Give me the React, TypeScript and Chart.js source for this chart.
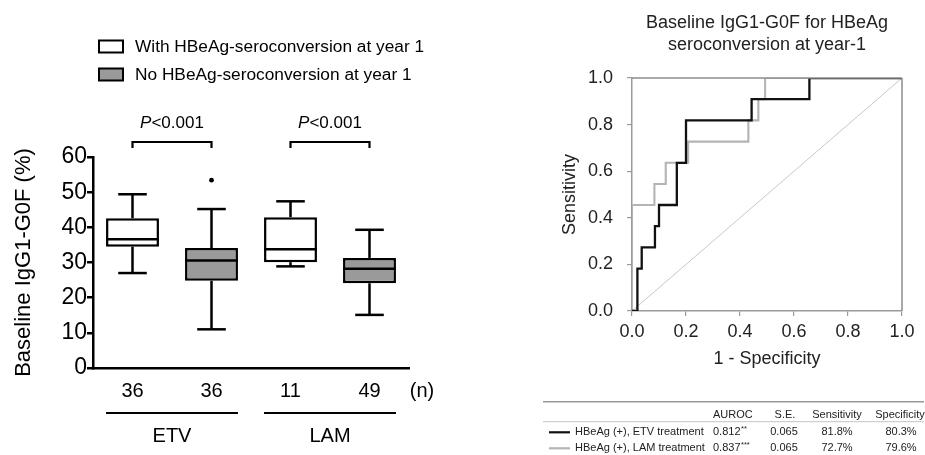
import React, { useEffect, useRef } from 'react';
import { Chart, registerables } from 'chart.js';

Chart.register(...registerables);

const FONT = '"Liberation Sans", Arial, Helvetica, sans-serif';

// ---------- Left panel: box plots ----------
const seriesLabels = ['With HBeAg-seroconversion at year 1', 'No HBeAg-seroconversion at year 1'];
const seriesColors = ['#ffffff', '#9a9a9a'];
const nLabels = ['36', '36', '11', '49'];
const boxSeries = [0, 1, 0, 1];
const groupLabels = ['ETV', 'LAM'];
const whiskerLow = [27.0, 11.0, 28.9, 15.1];
const q1 = [34.5, 24.8, 30.1, 24.1];
const medians = [36.6, 30.6, 33.8, 28.2];
const q3 = [42.6, 34.1, 42.9, 31.3];
const whiskerHigh = [49.4, 45.2, 47.4, 39.3];
const outliers: number[][] = [[], [53.4], [], []];
const pValues = ['<0.001', '<0.001'];
const leftYMin = 0;
const leftYMax = 60;
const leftYStep = 10;

// ---------- Right panel: ROC ----------
const rocTitle = ['Baseline IgG1-G0F for HBeAg', 'seroconversion at year-1'];
const rocLabels = ['HBeAg (+), ETV treatment', 'HBeAg (+), LAM treatment'];
const rocColors = ['#111111', '#b4b4b4'];
const etvFpr = [0, 0.02, 0.036, 0.085, 0.1, 0.166, 0.2, 0.443, 0.657, 1];
const etvTpr = [0, 0.182, 0.273, 0.364, 0.455, 0.636, 0.818, 0.909, 1, 1];
const lamFpr = [0, 0, 0.083, 0.125, 0.208, 0.431, 0.468, 0.493, 1];
const lamTpr = [0, 0.455, 0.545, 0.636, 0.727, 0.818, 0.909, 1, 1];
const diagX = [0, 1];
const diagY = [0, 1];
const tableHeaders = ['AUROC', 'S.E.', 'Sensitivity', 'Specificity'];
const aurocValues = ['0.812', '0.837'];
const aurocStars = ['**', '***'];
const seValues = ['0.065', '0.065'];
const sensValues = ['81.8%', '72.7%'];
const specValues = ['80.3%', '79.6%'];

function line(ctx: CanvasRenderingContext2D, x1: number, y1: number, x2: number, y2: number) {
  ctx.beginPath();
  ctx.moveTo(x1, y1);
  ctx.lineTo(x2, y2);
  ctx.stroke();
}

const boxPlugin = {
  id: 'boxExtras',
  afterDatasetsDraw(chart: any) {
    const { ctx, scales } = chart;
    const x = scales.x;
    const y = scales.y;
    ctx.save();
    ctx.strokeStyle = '#000';
    ctx.fillStyle = '#000';
    ctx.lineWidth = 2.5;
    for (let i = 0; i < nLabels.length; i++) {
      const bar = chart.getDatasetMeta(boxSeries[i]).data[i];
      const cx = x.getPixelForValue(i);
      const w = bar.width;
      const cap = w * 0.27;
      const pm = y.getPixelForValue(medians[i]);
      const p1 = y.getPixelForValue(q1[i]);
      const p3 = y.getPixelForValue(q3[i]);
      const pl = y.getPixelForValue(whiskerLow[i]);
      const ph = y.getPixelForValue(whiskerHigh[i]);
      line(ctx, cx - w / 2, pm, cx + w / 2, pm);
      line(ctx, cx, p3, cx, ph);
      line(ctx, cx - cap, ph, cx + cap, ph);
      line(ctx, cx, p1, cx, pl);
      line(ctx, cx - cap, pl, cx + cap, pl);
      for (const o of outliers[i]) {
        ctx.beginPath();
        ctx.arc(cx, y.getPixelForValue(o), 2.4, 0, Math.PI * 2);
        ctx.fill();
      }
    }
    ctx.restore();
  },
  afterDraw(chart: any) {
    const { ctx, scales, chartArea } = chart;
    const x = scales.x;
    ctx.save();
    ctx.fillStyle = '#000';
    ctx.strokeStyle = '#000';
    // legend
    const ds = chart.data.datasets;
    for (let s = 0; s < ds.length; s++) {
      const by = 40.5 + s * 28;
      ctx.fillStyle = ds[s].backgroundColor;
      ctx.fillRect(99, by, 24, 12);
      ctx.lineWidth = 2;
      ctx.strokeStyle = '#000';
      ctx.strokeRect(99, by, 24, 12);
      ctx.fillStyle = '#000';
      ctx.font = `17.3px ${FONT}`;
      ctx.textAlign = 'left';
      ctx.textBaseline = 'middle';
      ctx.fillText(ds[s].label, 135, by + 6.5);
    }
    // brackets and P values
    ctx.lineWidth = 2.2;
    for (let g = 0; g < pValues.length; g++) {
      const xa = x.getPixelForValue(2 * g);
      const xb = x.getPixelForValue(2 * g + 1);
      const yb = chartArea.top - 15;
      ctx.beginPath();
      ctx.moveTo(xa, yb + 6);
      ctx.lineTo(xa, yb);
      ctx.lineTo(xb, yb);
      ctx.lineTo(xb, yb + 6);
      ctx.stroke();
      ctx.font = `italic 17px ${FONT}`;
      const wp = ctx.measureText('P').width;
      ctx.font = `17px ${FONT}`;
      const wr = ctx.measureText(pValues[g]).width;
      const start = (xa + xb) / 2 - (wp + wr) / 2;
      ctx.textAlign = 'left';
      ctx.textBaseline = 'middle';
      ctx.font = `italic 17px ${FONT}`;
      ctx.fillText('P', start, chartArea.top - 34);
      ctx.font = `17px ${FONT}`;
      ctx.fillText(pValues[g], start + wp, chartArea.top - 34);
    }
    // (n)
    ctx.font = `20px ${FONT}`;
    ctx.textAlign = 'center';
    ctx.textBaseline = 'middle';
    ctx.fillText('(n)', chartArea.right + 13, chartArea.bottom + 23);
    // group lines
    for (let g = 0; g < groupLabels.length; g++) {
      const b0 = chart.getDatasetMeta(boxSeries[2 * g]).data[2 * g];
      const b1 = chart.getDatasetMeta(boxSeries[2 * g + 1]).data[2 * g + 1];
      const xa = b0.x - b0.width / 2;
      const xb = b1.x + b1.width / 2;
      ctx.lineWidth = 2;
      line(ctx, xa, chartArea.bottom + 45, xb, chartArea.bottom + 45);
      ctx.fillText(groupLabels[g], (xa + xb) / 2, chartArea.bottom + 68);
    }
    ctx.restore();
  },
};

const rocPlugin = {
  id: 'rocExtras',
  afterDraw(chart: any) {
    const { ctx, chartArea } = chart;
    ctx.save();
    // frame top/right
    ctx.strokeStyle = '#8c8c8c';
    ctx.lineWidth = 1.5;
    line(ctx, chartArea.left, chartArea.top, chartArea.right, chartArea.top);
    line(ctx, chartArea.right, chartArea.top, chartArea.right, chartArea.bottom);
    // title
    const cxTitle = (chartArea.left + chartArea.right) / 2;
    ctx.fillStyle = '#222';
    ctx.font = `18px ${FONT}`;
    ctx.textAlign = 'center';
    ctx.textBaseline = 'middle';
    rocTitle.forEach((t, i) => ctx.fillText(t, cxTitle, 23 + i * 22));
    // table
    ctx.strokeStyle = '#999';
    ctx.lineWidth = 1.6;
    line(ctx, 3, 401.7, 384, 401.7);
    ctx.strokeStyle = '#c4c4c4';
    ctx.lineWidth = 1;
    line(ctx, 3, 421.7, 384, 421.7);
    ctx.font = `11px ${FONT}`;
    ctx.fillStyle = '#222';
    ctx.textAlign = 'left';
    ctx.fillText(tableHeaders[0], 173, 414.5);
    ctx.textAlign = 'center';
    ctx.fillText(tableHeaders[1], 245, 414.5);
    ctx.fillText(tableHeaders[2], 297, 414.5);
    ctx.fillText(tableHeaders[3], 360, 414.5);
    const ds = chart.data.datasets;
    for (let r = 0; r < rocLabels.length; r++) {
      const ry = 432.3 + r * 16;
      ctx.strokeStyle = ds[r].borderColor;
      ctx.lineWidth = 2.2;
      line(ctx, 9, ry, 30, ry);
      ctx.fillStyle = '#222';
      ctx.font = `11px ${FONT}`;
      ctx.textAlign = 'left';
      ctx.fillText(ds[r].label, 35, ry);
      ctx.fillText(aurocValues[r], 173, ry);
      const w = ctx.measureText(aurocValues[r]).width;
      ctx.font = `7.5px ${FONT}`;
      ctx.fillText(aurocStars[r], 173 + w + 0.5, ry - 3);
      ctx.font = `11px ${FONT}`;
      ctx.textAlign = 'center';
      ctx.fillText(seValues[r], 244, ry);
      ctx.fillText(sensValues[r], 297, ry);
      ctx.fillText(specValues[r], 361, ry);
    }
    ctx.restore();
  },
};

export default function App() {
  const leftRef = useRef<HTMLCanvasElement>(null);
  const rightRef = useRef<HTMLCanvasElement>(null);

  useEffect(() => {
    const boxData = (s: number) =>
      nLabels.map((_, i) => (boxSeries[i] === s ? [q1[i], q3[i]] : null));

    const left = new Chart(leftRef.current as HTMLCanvasElement, {
      type: 'bar',
      data: {
        labels: nLabels,
        datasets: seriesLabels.map((label, s) => ({
          label,
          data: boxData(s) as any,
          backgroundColor: seriesColors[s],
          borderColor: '#000',
          borderWidth: 2.5,
          borderSkipped: false,
          grouped: false,
          categoryPercentage: 1,
          barPercentage: 0.67,
        })),
      },
      options: {
        responsive: false,
        animation: false,
        layout: { padding: { top: 157, right: 51, bottom: 0, left: 0 } },
        plugins: { legend: { display: false }, tooltip: { enabled: false }, title: { display: false } },
        scales: {
          x: {
            grid: { display: false, drawTicks: false },
            border: { display: true, color: '#000', width: 2.5 },
            ticks: { font: { size: 20, family: FONT }, color: '#000', padding: 11 },
            afterFit: (s: any) => { s.height = 87; },
          },
          y: {
            min: leftYMin,
            max: leftYMax,
            ticks: { stepSize: leftYStep, font: { size: 23, family: FONT }, color: '#000', padding: 0 },
            grid: { drawOnChartArea: false, drawTicks: true, tickLength: 6, color: '#000', lineWidth: 2.5 },
            border: { display: true, color: '#000', width: 2.5 },
            title: {
              display: true,
              text: 'Baseline IgG1-G0F (%)',
              font: { size: 22, family: FONT },
              color: '#000',
              padding: { top: 11, bottom: 0 },
            },
            afterFit: (s: any) => { s.width = 93; },
          },
        },
      } as any,
      plugins: [boxPlugin],
    });

    const pts = (xs: number[], ys: number[]) => xs.map((x, i) => ({ x, y: ys[i] }));

    const right = new Chart(rightRef.current as HTMLCanvasElement, {
      type: 'scatter',
      data: {
        datasets: [
          {
            label: rocLabels[0],
            data: pts(etvFpr, etvTpr),
            borderColor: rocColors[0],
            backgroundColor: rocColors[0],
            borderWidth: 2.3,
            showLine: true,
            stepped: true,
            pointRadius: 0,
          },
          {
            label: rocLabels[1],
            data: pts(lamFpr, lamTpr),
            borderColor: rocColors[1],
            backgroundColor: rocColors[1],
            borderWidth: 2.1,
            showLine: true,
            stepped: true,
            pointRadius: 0,
          },
          {
            label: 'Reference',
            data: pts(diagX, diagY),
            borderColor: '#c8c8c8',
            borderWidth: 1,
            showLine: true,
            pointRadius: 0,
          },
        ],
      },
      options: {
        responsive: false,
        animation: false,
        layout: { padding: { top: 78, right: 23, bottom: 84, left: 0 } },
        plugins: { legend: { display: false }, tooltip: { enabled: false }, title: { display: false } },
        scales: {
          x: {
            type: 'linear',
            min: 0,
            max: 1,
            ticks: {
              stepSize: 0.2,
              font: { size: 18, family: FONT },
              color: '#222',
              padding: 5,
              callback: (v: any) => Number(v).toFixed(1),
            },
            grid: { drawOnChartArea: false, drawTicks: true, tickLength: 5, color: '#9a9a9a', lineWidth: 1.2 },
            border: { display: true, color: '#9a9a9a', width: 1.5 },
            title: {
              display: true,
              text: '1 - Specificity',
              font: { size: 18, family: FONT },
              color: '#222',
              padding: { top: 0, bottom: 1 },
            },
            afterFit: (s: any) => { s.height = 60; },
          },
          y: {
            type: 'linear',
            min: 0,
            max: 1,
            ticks: {
              stepSize: 0.2,
              font: { size: 18, family: FONT },
              color: '#222',
              padding: 14,
              callback: (v: any) => Number(v).toFixed(1),
            },
            grid: { drawOnChartArea: false, drawTicks: true, tickLength: 5, color: '#9a9a9a', lineWidth: 1.2 },
            border: { display: true, color: '#9a9a9a', width: 1.5 },
            title: {
              display: true,
              text: 'Sensitivity',
              font: { size: 18, family: FONT },
              color: '#222',
              padding: { top: 19, bottom: 0 },
            },
            afterFit: (s: any) => { s.width = 92; },
          },
        },
      } as any,
      plugins: [rocPlugin],
    });

    return () => {
      left.destroy();
      right.destroy();
    };
  }, []);

  return (
    <div style={{ position: 'absolute', left: 0, top: 0, width: 925, height: 455, background: '#fff', overflow: 'hidden' }}>
      <canvas ref={leftRef} width={460} height={455} style={{ position: 'absolute', left: 0, top: 0, width: 460, height: 455 }} />
      <canvas ref={rightRef} width={385} height={455} style={{ position: 'absolute', left: 540, top: 0, width: 385, height: 455 }} />
    </div>
  );
}
